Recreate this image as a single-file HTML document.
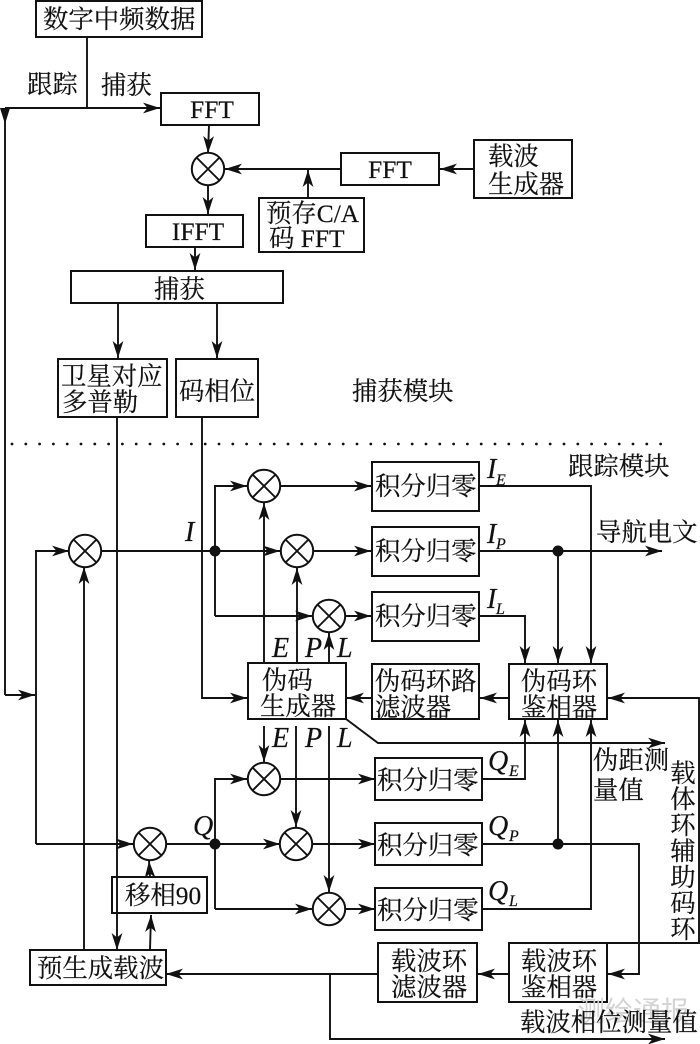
<!DOCTYPE html>
<html>
<head>
<meta charset="utf-8">
<style>
html,body{margin:0;padding:0;background:#fff}
svg{display:block}
text{font-family:"Liberation Serif","Noto Serif CJK SC",serif;font-size:25.4px;fill:#111;stroke:#111;stroke-width:.2}
.i{font-style:italic;font-size:28px}
.s{font-style:italic;font-size:16px}
.m{text-anchor:middle}
.l{fill:none;stroke:#111;stroke-width:1.9}
.b{fill:#fff;stroke:#111;stroke-width:2}
.a{fill:none;stroke:#111;stroke-width:1.9;marker-end:url(#h)}
</style>
</head>
<body>
<svg width="700" height="1044" viewBox="0 0 700 1044" xmlns="http://www.w3.org/2000/svg">
<defs>
<marker id="h" markerUnits="userSpaceOnUse" markerWidth="20" markerHeight="14" refX="18" refY="7" orient="auto">
<path d="M1,1.6 L18,7 L1,12.4 L5.5,7 Z" fill="#111"/>
</marker>
<g id="x"><circle r="16.2" fill="#fff" stroke="#111" stroke-width="2"/><path d="M-11.5,-11.5 L11.5,11.5 M-11.5,11.5 L11.5,-11.5" stroke="#111" stroke-width="1.9"/></g>
</defs>

<!-- wires -->
<path class="l" d="M87,37 V108"/>
<path class="a" d="M5,108 H160"/>
<path class="l" d="M5,108 V695"/>
<path d="M0,108 H10 L5,124 Z" fill="#111"/>
<path class="a" d="M5,695 H35"/>
<path class="a" d="M36,844 V551 H69"/>
<path class="a" d="M36,844 H133"/>
<path class="a" d="M209,125 L208,153"/>
<path class="a" d="M208,185 V214"/>
<path class="a" d="M195,247 V270"/>
<path class="a" d="M341,169 H225"/>
<path class="a" d="M308,198 V170"/>
<path class="a" d="M474,169 H440"/>
<path class="a" d="M118,303 V358"/>
<path class="a" d="M217,303 V358"/>
<path class="a" d="M117,417 V950"/>
<path class="a" d="M84,950 V567"/>
<path class="a" d="M202,417 V698 H247"/>
<path class="l" d="M101,551 H215"/>
<path class="a" d="M215,551 H280"/>
<path class="a" d="M215,616 V486 H247"/>
<path class="a" d="M215,616 H312"/>
<path class="a" d="M264,663 V503"/>
<path class="a" d="M297,663 V568"/>
<path class="a" d="M329,663 V633"/>
<path class="a" d="M281,486 H371"/>
<path class="a" d="M314,551 H371"/>
<path class="a" d="M346,616 H371"/>
<path class="a" d="M479,551 H662"/>
<path class="a" d="M479,486 H591 V663"/>
<path class="a" d="M558,551 V663"/>
<path class="a" d="M479,616 H525 V663"/>
<path class="a" d="M509,698 H480"/>
<path class="a" d="M372,698 H347"/>
<path class="a" d="M346,719 L378,743 H665"/>
<path class="a" d="M482,779 H525 V720"/>
<path class="a" d="M558,844 V720"/>
<path class="a" d="M482,909 H591 V720"/>
<path class="a" d="M482,844 H639 V974 H608"/>
<path class="a" d="M607,943 H699 V698 H608"/>
<path class="a" d="M509,974 H478"/>
<path class="a" d="M378,974 H166"/>
<path class="a" d="M330,974 V1039 H665"/>
<path class="a" d="M264,726 V762"/>
<path class="a" d="M296,726 V827"/>
<path class="a" d="M329,726 V892"/>
<path class="l" d="M166,844 H215"/>
<path class="a" d="M215,844 H280"/>
<path class="a" d="M215,909 V779 H247"/>
<path class="a" d="M215,909 H312"/>
<path class="a" d="M280,779 H375"/>
<path class="a" d="M313,844 H375"/>
<path class="a" d="M346,909 H375"/>
<path class="a" d="M150,877 L149,861"/>
<path class="a" d="M150,950 L151,915"/>

<!-- junctions -->
<circle cx="215" cy="551" r="5.5" fill="#111"/>
<circle cx="558" cy="551" r="5.5" fill="#111"/>
<circle cx="558" cy="844" r="5.5" fill="#111"/>
<circle cx="215" cy="844" r="5.5" fill="#111"/>

<!-- dotted -->
<path d="M12,444 H665" stroke="#111" stroke-width="2.8" stroke-linecap="round" stroke-dasharray="0 13.8" fill="none"/>

<!-- boxes -->
<rect class="b" x="36" y="1" width="166" height="36"/>
<rect class="b" x="161" y="93" width="98" height="32"/>
<rect class="b" x="146" y="215" width="97" height="32"/>
<rect class="b" x="71" y="271" width="212" height="32"/>
<rect class="b" x="341" y="153" width="98" height="32"/>
<rect class="b" x="259" y="198" width="105" height="54"/>
<rect class="b" x="474" y="140" width="98" height="58"/>
<rect class="b" x="58" y="359" width="109" height="58"/>
<rect class="b" x="176" y="359" width="82" height="58"/>
<rect class="b" x="372" y="462" width="107" height="49"/>
<rect class="b" x="372" y="527" width="107" height="49"/>
<rect class="b" x="372" y="592" width="107" height="49"/>
<rect class="b" x="248" y="663" width="98" height="56"/>
<rect class="b" x="372" y="664" width="107" height="55"/>
<rect class="b" x="509" y="664" width="98" height="55"/>
<rect class="b" x="375" y="758" width="107" height="42"/>
<rect class="b" x="375" y="823" width="107" height="42"/>
<rect class="b" x="375" y="888" width="107" height="42"/>
<rect class="b" x="112" y="877" width="95" height="36"/>
<path class="l" d="M117,877 V913"/>
<rect class="b" x="30" y="950" width="136" height="35"/>
<rect class="b" x="378" y="943" width="99" height="59"/>
<rect class="b" x="509" y="943" width="98" height="59"/>

<!-- mixers -->
<use href="#x" x="208" y="169"/>
<use href="#x" x="85" y="551"/>
<use href="#x" x="264" y="486"/>
<use href="#x" x="297" y="551"/>
<use href="#x" x="329" y="616"/>
<use href="#x" x="150" y="844"/>
<use href="#x" x="264" y="779"/>
<use href="#x" x="296" y="844"/>
<use href="#x" x="329" y="909"/>

<!-- labels -->
<text x="43" y="28">数字中频数据</text>
<text x="27" y="93">跟踪</text>
<text x="101" y="94">捕获</text>
<text class="m" x="212" y="118">FFT</text>
<text class="m" x="390" y="178">FFT</text>
<text class="m" x="198" y="240">IFFT</text>
<text x="154" y="298">捕获</text>
<text x="266" y="222">预存C/A</text>
<text x="269" y="247">码 FFT</text>
<text x="488" y="165">载波</text>
<text x="488" y="193">生成器</text>
<text x="61" y="385">卫星对应</text>
<text x="62" y="411">多普勒</text>
<text x="179" y="400">码相位</text>
<text x="352" y="400">捕获模块</text>
<text x="568" y="475">跟踪模块</text>
<text x="596" y="541">导航电文</text>
<text class="i" x="185" y="541">I</text>
<text class="i" x="487" y="478">I</text><text class="s" x="496" y="485">E</text>
<text class="i" x="487" y="543">I</text><text class="s" x="496" y="549">P</text>
<text class="i" x="487" y="608">I</text><text class="s" x="496" y="614">L</text>
<text x="375" y="495">积分归零</text>
<text x="375" y="560">积分归零</text>
<text x="375" y="625">积分归零</text>
<text class="i" x="272" y="657">E</text>
<text class="i" x="305" y="657">P</text>
<text class="i" x="337" y="657">L</text>
<text x="262" y="689">伪码</text>
<text x="260" y="715">生成器</text>
<text x="375" y="690">伪码环路</text>
<text x="375" y="716">滤波器</text>
<text x="521" y="690">伪码环</text>
<text x="521" y="716">鉴相器</text>
<text class="i" x="272" y="747">E</text>
<text class="i" x="305" y="747">P</text>
<text class="i" x="337" y="747">L</text>
<text x="593" y="769">伪距测</text>
<text x="593" y="799">量值</text>
<text x="377" y="789">积分归零</text>
<text x="377" y="854">积分归零</text>
<text x="377" y="919">积分归零</text>
<text class="i" x="488" y="770">Q</text><text class="s" x="509" y="776">E</text>
<text class="i" x="488" y="835">Q</text><text class="s" x="509" y="841">P</text>
<text class="i" x="488" y="900">Q</text><text class="s" x="509" y="906">L</text>
<text class="i" x="193" y="835">Q</text>
<text x="125" y="904">移相90</text>
<text x="37" y="977">预生成载波</text>
<text x="391" y="970">载波环</text>
<text x="391" y="996">滤波器</text>
<text x="521" y="970">载波环</text>
<text x="521" y="996">鉴相器</text>
<text class="m" x="683" y="782">载</text>
<text class="m" x="683" y="808">体</text>
<text class="m" x="683" y="834">环</text>
<text class="m" x="683" y="860">辅</text>
<text class="m" x="683" y="886">助</text>
<text class="m" x="683" y="912">码</text>
<text class="m" x="683" y="938">环</text>
<text x="577" y="1021" style="font-family:'Liberation Sans','Noto Sans CJK SC',sans-serif;font-size:28px;fill:#d4d4d4;stroke:none">测绘通报</text>
<text x="520" y="1031">载波相位测量值</text>
</svg>
</body>
</html>
